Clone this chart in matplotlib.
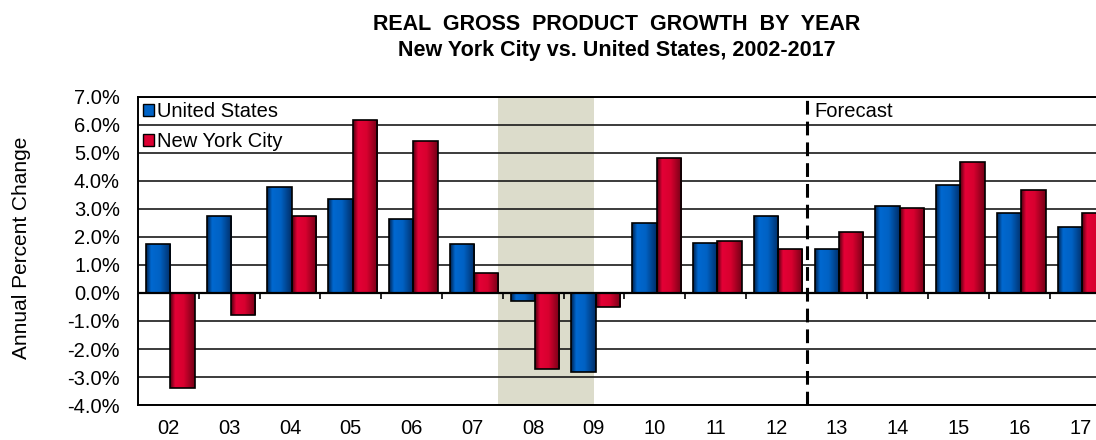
import numpy as np
import matplotlib
matplotlib.use('Agg')
import matplotlib.pyplot as plt
from matplotlib.colors import LinearSegmentedColormap
from matplotlib.patches import Patch

plt.rcParams['font.family'] = ['Liberation Sans', 'DejaVu Sans']

# dados
anos = ['02', '03', '04', '05', '06', '07', '08', '09', '10', '11', '12', '13', '14', '15', '16', '17']
eua = [1.75, 2.75, 3.8, 3.35, 2.63, 1.75, -0.3, -2.83, 2.49, 1.8, 2.74, 1.57, 3.11, 3.84, 2.86, 2.37]
nyc = [-3.39, -0.8, 2.74, 6.19, 5.44, 0.7, -2.71, -0.49, 4.83, 1.87, 1.56, 2.18, 3.05, 4.67, 3.67, 2.86]
recessao = (5.42, 7.0)   # dez/2007 a jun/2009
inicio_previsao = 10.5   # entre 12 e 13
y_ticks = [-4, -3, -2, -1, 0, 1, 2, 3, 4, 5, 6, 7]

azul = '#0063c6'
vermelho = '#dc0032'
cm_azul = LinearSegmentedColormap.from_list('az', [(0, '#00224e'), (0.2, '#0068d0'), (0.55, '#0062c4'), (1, '#002e68')])
cm_verm = LinearSegmentedColormap.from_list('vm', [(0, '#500010'), (0.2, '#e40036'), (0.55, '#d8002f'), (1, '#740016')])

fig = plt.figure(figsize=(10.96, 4.4), dpi=100)
ax = fig.add_axes([138/1096, 35/440, 958/1096, 308/440])

x = np.arange(len(anos))
w = 0.4

ax.axvspan(recessao[0], recessao[1], color='#dcdccb', zorder=0, lw=0)
for v in y_ticks:
    ax.axhline(v, color='#1a1a1a', lw=1.2, zorder=1)

grad = np.linspace(0, 1, 64).reshape(1, -1)
for vals, off, cmap in [(eua, -w/2 + 0.03, cm_azul), (nyc, w/2 + 0.03, cm_verm)]:
    barras = ax.bar(x + off, vals, width=w, facecolor='none', edgecolor='black', lw=1.2, zorder=3)
    for r in barras:
        x0, y0, bw, bh = r.get_x(), r.get_y(), r.get_width(), r.get_height()
        im = ax.imshow(grad, cmap=cmap, aspect='auto', extent=[x0, x0 + bw, y0, y0 + bh],
                       zorder=2.5, interpolation='bilinear')
        im.set_clip_path(r)

# linha do zero com tracinhos entre os anos
ax.axhline(0, color='black', lw=1.6, zorder=4)
ax.vlines(x[:-1] + 0.5, -0.22, 0, color='black', lw=1.2, zorder=4)

ax.axvline(inicio_previsao, color='black', lw=2.2, dashes=(4.5, 2.3), zorder=5)
ax.text(inicio_previsao + 0.13, 6.47, 'Forecast', fontsize=14.5, va='center', ha='left')

ax.set_xlim(-0.5, 15.26)
ax.set_ylim(-4, 7)
ax.set_xticks(x)
ax.set_xticklabels(anos)
ax.set_yticks(y_ticks)
ax.set_yticklabels(['%.1f%%' % v for v in y_ticks])
ax.tick_params(axis='both', length=0, labelsize=14.5)
ax.tick_params(axis='y', pad=13)
ax.tick_params(axis='x', pad=10)
ax.spines['right'].set_visible(False)
for s in ['left', 'top', 'bottom']:
    ax.spines[s].set_linewidth(1.4)
    ax.spines[s].set_zorder(6)

ax.set_ylabel('Annual Percent Change', fontsize=15)
ax.yaxis.set_label_coords(-0.112, 0.511)

handles = [Patch(facecolor=azul, edgecolor='black', lw=1), Patch(facecolor=vermelho, edgecolor='black', lw=1)]
ax.legend(handles, ['United States', 'New York City'], loc='upper left', bbox_to_anchor=(0.0, 1.0),
          frameon=False, fontsize=14.5, handlelength=0.55, handleheight=0.55, handletextpad=0.15,
          labelspacing=0.55, borderaxespad=0.15, borderpad=0.1)

fig.text(617/1096, 1 - 30/440, 'REAL  GROSS  PRODUCT  GROWTH  BY  YEAR', ha='center', va='baseline',
         fontsize=15.5, fontweight='bold')
fig.text(617/1096, 1 - 56/440, 'New York City vs. United States, 2002-2017', ha='center', va='baseline',
         fontsize=15.5, fontweight='bold')

fig.savefig('out.png', dpi=100)
